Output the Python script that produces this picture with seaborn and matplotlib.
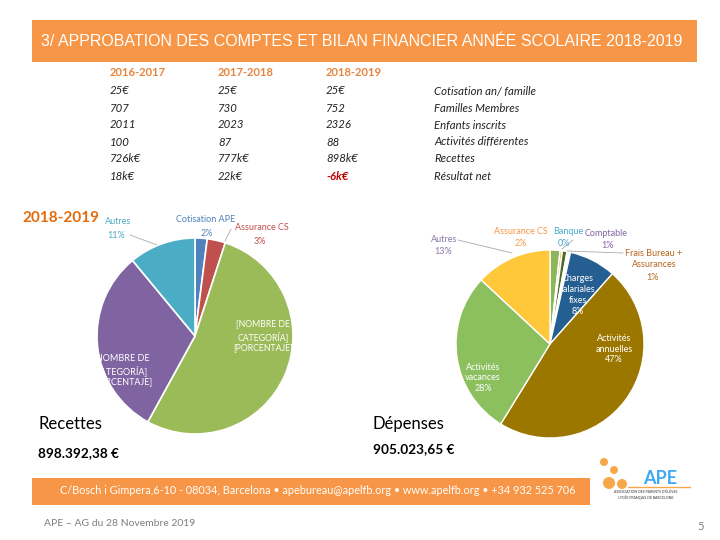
import matplotlib
matplotlib.use("Agg")
import matplotlib.pyplot as plt
import seaborn as sns
from matplotlib.patches import Rectangle, Circle
from matplotlib.transforms import Bbox, TransformedBbox

sns.set_theme(style="white")
plt.rcParams['font.family'] = ['Lato', 'DejaVu Sans']

# ---------------- data ----------------
title = "3/ APPROBATION DES COMPTES ET BILAN FINANCIER ANNÉE SCOLAIRE 2018-2019"
years = ["2016-2017", "2017-2018", "2018-2019"]
col_2016 = ["25€", "707", "2011", "100", "726k€", "18k€"]
col_2017 = ["25€", "730", "2023", "87", "777k€", "22k€"]
col_2018 = ["25€", "752", "2326", "88", "898k€", "-6k€"]
row_labels = ["Cotisation an/ famille", "Familles Membres", "Enfants inscrits",
              "Activités différentes", "Recettes", "Résultat net"]

rec_labels = ["Cotisation APE", "Assurance CS", "[NOMBRE DE\nCATEGORÍA]\n[PORCENTAJE]",
              "[NOMBRE DE\nCATEGORÍA]\n[PORCENTAJE]", "Autres"]
rec_values = [2, 3, 53, 31, 11]
rec_colors = ["#4F81BD", "#C0504D", "#9BBB59", "#8064A2", "#4BACC6"]

dep_labels = ["Assurance CS", "Banque", "Comptable", "Frais Bureau +\nAssurances",
              "Charges\nsalariales\nfixes", "Activités\nannuelles", "Activités\nvacances", "Autres"]
dep_values = [1.7, 0.4, 0.8, 0.6, 8, 47, 28, 13]
dep_colors = ["#8DB65A", "#F2C14E", "#4E6B2A", "#FFFFFF", "#255E91", "#9C7700", "#8CBF5E", "#FFC73A"]

rec_total = "898.392,38 €"
dep_total = "905.023,65 €"
footer = "C/Bosch i Gimpera,6-10 - 08034, Barcelona • apebureau@apelfb.org • www.apelfb.org • +34 932 525 706"
foot_note = "APE – AG du 28 Novembre 2019"
page = "5"

ORANGE = "#F79646"

fig = plt.figure(figsize=(7.2, 5.4), dpi=100)
fig.patch.set_facecolor("white")

W, H = 720, 540


def pie_axes(cx, cy, r):
    ax = fig.add_axes([(cx - r) / W, 1 - (cy + r) / H, 2 * r / W, 2 * r / H])
    ax.set_zorder(1)
    return ax


def finish(ax):
    ax.set_xlim(-1, 1)
    ax.set_ylim(-1, 1)
    ax.set_aspect("equal")
    ax.axis("off")


# ---------------- pies ----------------
axl = pie_axes(195, 336, 98)
axl.pie(rec_values, colors=rec_colors, startangle=90, counterclock=False, radius=1,
        wedgeprops=dict(edgecolor="white", linewidth=1.2))
finish(axl)

axr = pie_axes(550, 344, 94)
axr.pie(dep_values, colors=dep_colors, startangle=90, counterclock=False, radius=1,
        wedgeprops=dict(edgecolor="white", linewidth=1.0))
finish(axr)

rec_pct = [f"{round(v / sum(rec_values) * 100)}%" for v in rec_values]
dep_pct = [f"{round(v / sum(dep_values) * 100)}%" for v in dep_values]

# ---------------- overlay (pixel coords) ----------------
ov = fig.add_axes([0, 0, 1, 1])
ov.set_xlim(0, W)
ov.set_ylim(H, 0)
ov.axis("off")
ov.set_zorder(3)
ov.patch.set_alpha(0)

# title bar
ov.add_patch(Rectangle((32, 20), 665, 42, facecolor=ORANGE, edgecolor="none"))
ov.text(362, 42, title, color="white", fontsize=11.5, ha="center", va="center",
        family=["Liberation Sans", "DejaVu Sans"])

# table
col_x = [110, 218, 326]
lab_x = 434
row_y = [91, 108, 125, 142, 159, 177]
for x, yr in zip(col_x, years):
    ov.text(x, 73, yr, color="#E8833A", fontsize=8, fontweight="bold", ha="left", va="center")
for x, col in zip(col_x, [col_2016, col_2017, col_2018]):
    for y, v in zip(row_y, col):
        neg = v.startswith("-")
        ov.text(x, y, v, color="#C00000" if neg else "#222222", fontsize=8.2, style="italic",
                fontweight="bold" if neg else "normal", ha="left", va="center")
for y, lab in zip(row_y, row_labels):
    ov.text(lab_x, y, lab, color="#222222", fontsize=8.2, style="italic", ha="left", va="center")

# year tag
ov.text(22, 218, "2018-2019", color="#E36C0A", fontsize=11, fontweight="bold", ha="left", va="center")

lab_kw = dict(fontsize=6.5, ha="center", va="center", linespacing=1.25)

# left pie labels
ov.text(118, 222, "Autres", color="#4BACC6", **lab_kw)
ov.text(116, 235, rec_pct[4], color="#4BACC6", **lab_kw)
ov.plot([130, 157], [235, 245], color="#AAAAAA", lw=0.6)
ov.text(206, 220, rec_labels[0], color="#4F81BD", **lab_kw)
ov.text(207, 233, rec_pct[0], color="#4F81BD", **lab_kw)
ov.text(262, 228, rec_labels[1], color="#C0504D", **lab_kw)
ov.text(260, 241, rec_pct[1], color="#C0504D", **lab_kw)
ov.plot([225, 231], [241, 229], color="#AAAAAA", lw=0.6)
ov.text(263, 336, rec_labels[2], color="white", fontsize=6.3, ha="center", va="center", linespacing=1.25)
t = ov.text(121, 370, rec_labels[3], color="white", **lab_kw)
t.set_clip_box(TransformedBbox(Bbox([[97, 0], [W, H]]), ov.transData))
t.set_clip_on(True)

# right pie labels
ov.text(444, 239, dep_labels[7], color="#8B78A8", **lab_kw)
ov.text(443, 251, dep_pct[7], color="#8B78A8", **lab_kw)
ov.plot([458, 512], [240, 253], color="#AAAAAA", lw=0.6)
ov.text(521, 231, dep_labels[0], color="#F79646", **lab_kw)
ov.text(521, 243, dep_pct[0], color="#F79646", **lab_kw)
ov.text(568, 231, dep_labels[1], color="#4BACC6", **lab_kw)
ov.text(564, 243, dep_pct[1], color="#4BACC6", **lab_kw)
ov.text(606, 234, dep_labels[2], color="#8064A2", **lab_kw)
ov.text(607, 246, dep_pct[2], color="#8064A2", **lab_kw)
ov.plot([562, 573], [249, 240], color="#AAAAAA", lw=0.6)
ov.text(654, 259, dep_labels[3], color="#B5651D", **lab_kw)
ov.text(652, 277, dep_pct[3], color="#B5651D", **lab_kw)
ov.plot([567, 623], [251, 253], color="#AAAAAA", lw=0.6)
ov.text(578, 295, dep_labels[4] + "\n" + dep_pct[4], color="white", **lab_kw)
ov.text(614, 349, dep_labels[5] + "\n" + dep_pct[5], color="white", **lab_kw)
ov.text(483, 378, dep_labels[6] + "\n" + dep_pct[6], color="white", **lab_kw)

# captions
ov.text(38, 424, "Recettes", color="black", fontsize=12, ha="left", va="center")
ov.text(38, 453, rec_total, color="black", fontsize=9.8, fontweight="bold", ha="left", va="center")
ov.text(373, 424, "Dépenses", color="black", fontsize=12, ha="left", va="center")
ov.text(373, 449, dep_total, color="black", fontsize=9.8, fontweight="bold", ha="left", va="center")

# footer bar
ov.add_patch(Rectangle((32, 478), 558, 27, facecolor=ORANGE, edgecolor="none"))
ov.text(60, 491, footer, color="white", fontsize=7.8, ha="left", va="center")
ov.text(44, 524, foot_note, color="#7F7F7F", fontsize=7.5, ha="left", va="center")
ov.text(701, 527, page, color="#7F7F7F", fontsize=8, ha="center", va="center")

# logo (approximation)
for (x, y, r) in [(604, 462, 4), (614, 470, 4), (609, 483, 6), (622, 484, 5)]:
    ov.add_patch(Circle((x, y), r, facecolor="#F6A84A", edgecolor="none"))
ov.text(660, 478, "APE", color="#3FA9F5", fontsize=13, fontweight="bold", ha="center", va="center")
ov.plot([628, 690], [487, 487], color="#F6A84A", lw=1)
ov.text(646, 495, "ASSOCIATION DES PARENTS D'ÉLÈVES\nLYCÉE FRANÇAIS DE BARCELONE", color="#333333",
        fontsize=2.5, ha="center", va="center")

fig.savefig("out.png", dpi=100, facecolor="white")
